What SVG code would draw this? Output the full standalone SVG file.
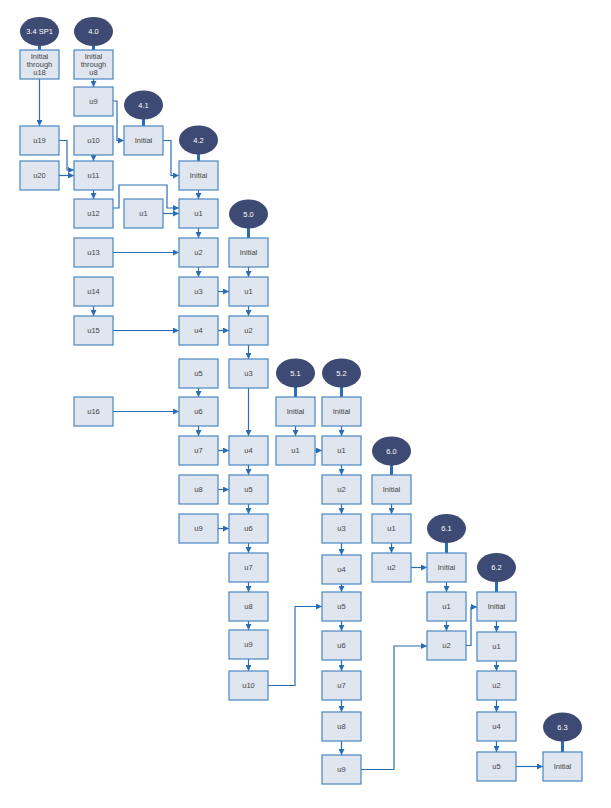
<svg xmlns="http://www.w3.org/2000/svg" width="611" height="808" viewBox="0 0 611 808">
<defs>
<style>
.b{fill:#dfe6f0;stroke:#4a86c0;stroke-width:1.2}
.e{fill:#3d4a73}
.s{stroke:#2a6db5;stroke-width:3}
.t{font-family:"Liberation Sans",Arial,sans-serif;font-size:7.5px;fill:#444;text-anchor:middle}
.w{font-family:"Liberation Sans",Arial,sans-serif;font-size:7.5px;fill:#ffffff;text-anchor:middle}
.c{fill:none;stroke:#2a6db5;stroke-width:1.2;marker-end:url(#ar)}
</style>
<marker id="ar" viewBox="0 0 6 6" refX="6" refY="3" markerWidth="6" markerHeight="6" markerUnits="userSpaceOnUse" orient="auto">
<path d="M0,0 L6,3 L0,6 z" fill="#2a6db5"/>
</marker>
</defs>
<rect width="611" height="808" fill="#ffffff"/>

<g id="connectors">
<path class="c" d="M39.5,79 V126"/>
<path class="c" d="M93.5,79 V87"/>
<path class="c" d="M113,101 H117 V140.5 H124"/>
<path class="c" d="M93.5,155 V161"/>
<path class="c" d="M59,140.5 H67 V170 H74"/>
<path class="c" d="M59,175.5 H74"/>
<path class="c" d="M163,140.5 H171 V175.5 H179"/>
<path class="c" d="M198.5,190 V199"/>
<path class="c" d="M93.5,190 V199"/>
<path class="c" d="M113,208 H119 V185 H167 V208 H179"/>
<path class="c" d="M163,213.5 H179"/>
<path class="c" d="M198.5,228 V238"/>
<path class="c" d="M113,252.5 H179"/>
<path class="c" d="M198.5,267 V277"/>
<path class="c" d="M218,291.5 H229"/>
<path class="c" d="M248.5,267 V277"/>
<path class="c" d="M248.5,306 V316"/>
<path class="c" d="M93.5,306 V316"/>
<path class="c" d="M113,330.5 H179"/>
<path class="c" d="M218,330.5 H229"/>
<path class="c" d="M248.5,345 V359"/>
<path class="c" d="M198.5,388 V397"/>
<path class="c" d="M113,411.5 H179"/>
<path class="c" d="M198.5,426 V436"/>
<path class="c" d="M248.5,388 V436"/>
<path class="c" d="M295.5,426 V436"/>
<path class="c" d="M218,450.5 H229"/>
<path class="c" d="M315,450.5 H322"/>
<path class="c" d="M341.5,426 V436"/>
<path class="c" d="M248.5,465 V475"/>
<path class="c" d="M218,489.5 H229"/>
<path class="c" d="M248.5,504 V514"/>
<path class="c" d="M218,528.5 H229"/>
<path class="c" d="M341.5,465 V475"/>
<path class="c" d="M341.5,504 V514"/>
<path class="c" d="M391.5,504 V514"/>
<path class="c" d="M248.5,543 V553"/>
<path class="c" d="M248.5,582 V592"/>
<path class="c" d="M248.5,621 V630"/>
<path class="c" d="M248.5,659 V671"/>
<path class="c" d="M341.5,543 V555"/>
<path class="c" d="M341.5,584 V592"/>
<path class="c" d="M341.5,621 V631"/>
<path class="c" d="M341.5,660 V671"/>
<path class="c" d="M341.5,700 V712"/>
<path class="c" d="M341.5,741 V755"/>
<path class="c" d="M391.5,543 V553"/>
<path class="c" d="M411,567.5 H427"/>
<path class="c" d="M268,685.5 H295 V606.5 H322"/>
<path class="c" d="M361,769.5 H394 V646 H427"/>
<path class="c" d="M446.5,582 V592"/>
<path class="c" d="M446.5,621 V631"/>
<path class="c" d="M466,645.5 H471 V607 H477"/>
<path class="c" d="M496.5,621 V632"/>
<path class="c" d="M496.5,661 V671"/>
<path class="c" d="M496.5,700 V712"/>
<path class="c" d="M496.5,741 V752"/>
<path class="c" d="M516,766.5 H543"/>
</g>

<g id="e34"><line class="s" x1="39.5" y1="45" x2="39.5" y2="50"/><ellipse class="e" cx="39.5" cy="31.5" rx="19.5" ry="14.5"/><text class="w" x="39.5" y="34.2">3.4 SP1</text></g>
<g id="e40"><line class="s" x1="93.5" y1="45" x2="93.5" y2="50"/><ellipse class="e" cx="93.5" cy="31.5" rx="19.5" ry="14.5"/><text class="w" x="93.5" y="34.2">4.0</text></g>
<g id="e41"><line class="s" x1="143.5" y1="119" x2="143.5" y2="126"/><ellipse class="e" cx="143.5" cy="105" rx="19.5" ry="14.5"/><text class="w" x="143.5" y="107.7">4.1</text></g>
<g id="e42"><line class="s" x1="198.5" y1="154" x2="198.5" y2="161"/><ellipse class="e" cx="198.5" cy="140" rx="19.5" ry="14.5"/><text class="w" x="198.5" y="142.7">4.2</text></g>
<g id="e50"><line class="s" x1="248.5" y1="228" x2="248.5" y2="238"/><ellipse class="e" cx="248.5" cy="214" rx="19.5" ry="14.5"/><text class="w" x="248.5" y="216.7">5.0</text></g>
<g id="e51"><line class="s" x1="295.5" y1="387" x2="295.5" y2="397"/><ellipse class="e" cx="295.5" cy="373" rx="19.5" ry="14.5"/><text class="w" x="295.5" y="375.7">5.1</text></g>
<g id="e52"><line class="s" x1="341.5" y1="387" x2="341.5" y2="397"/><ellipse class="e" cx="341.5" cy="373" rx="19.5" ry="14.5"/><text class="w" x="341.5" y="375.7">5.2</text></g>
<g id="e60"><line class="s" x1="391.5" y1="465" x2="391.5" y2="475"/><ellipse class="e" cx="391.5" cy="451" rx="19.5" ry="14.5"/><text class="w" x="391.5" y="453.7">6.0</text></g>
<g id="e61"><line class="s" x1="446.5" y1="542" x2="446.5" y2="553"/><ellipse class="e" cx="446.5" cy="528.5" rx="19.5" ry="14.5"/><text class="w" x="446.5" y="531.2">6.1</text></g>
<g id="e62"><line class="s" x1="496.5" y1="581" x2="496.5" y2="592"/><ellipse class="e" cx="496.5" cy="567.5" rx="19.5" ry="14.5"/><text class="w" x="496.5" y="570.2">6.2</text></g>
<g id="e63"><line class="s" x1="562.5" y1="741" x2="562.5" y2="752"/><ellipse class="e" cx="562.5" cy="727" rx="19.5" ry="14.5"/><text class="w" x="562.5" y="729.7">6.3</text></g>

<g id="a_init"><rect class="b" x="20" y="50" width="39" height="29"/><text class="t" x="39.5" y="58.5">Initial</text><text class="t" x="39.5" y="66.5">through</text><text class="t" x="39.5" y="74.5">u18</text></g>
<g id="a_u19"><rect class="b" x="20" y="126" width="39" height="29"/><text class="t" x="39.5" y="143.2">u19</text></g>
<g id="a_u20"><rect class="b" x="20" y="161" width="39" height="29"/><text class="t" x="39.5" y="178.2">u20</text></g>

<g id="b_init"><rect class="b" x="74" y="50" width="39" height="29"/><text class="t" x="93.5" y="58.5">Initial</text><text class="t" x="93.5" y="66.5">through</text><text class="t" x="93.5" y="74.5">u8</text></g>
<g id="b_u9"><rect class="b" x="74" y="87" width="39" height="29"/><text class="t" x="93.5" y="104.2">u9</text></g>
<g id="b_u10"><rect class="b" x="74" y="126" width="39" height="29"/><text class="t" x="93.5" y="143.2">u10</text></g>
<g id="b_u11"><rect class="b" x="74" y="161" width="39" height="29"/><text class="t" x="93.5" y="178.2">u11</text></g>
<g id="b_u12"><rect class="b" x="74" y="199" width="39" height="29"/><text class="t" x="93.5" y="216.2">u12</text></g>
<g id="b_u13"><rect class="b" x="74" y="238" width="39" height="29"/><text class="t" x="93.5" y="255.2">u13</text></g>
<g id="b_u14"><rect class="b" x="74" y="277" width="39" height="29"/><text class="t" x="93.5" y="294.2">u14</text></g>
<g id="b_u15"><rect class="b" x="74" y="316" width="39" height="29"/><text class="t" x="93.5" y="333.2">u15</text></g>
<g id="b_u16"><rect class="b" x="74" y="397" width="39" height="29"/><text class="t" x="93.5" y="414.2">u16</text></g>

<g id="c_init"><rect class="b" x="124" y="126" width="39" height="29"/><text class="t" x="143.5" y="143.2">Initial</text></g>
<g id="c_u1"><rect class="b" x="124" y="199" width="39" height="29"/><text class="t" x="143.5" y="216.2">u1</text></g>

<g id="d_init"><rect class="b" x="179" y="161" width="39" height="29"/><text class="t" x="198.5" y="178.2">Initial</text></g>
<g id="d_u1"><rect class="b" x="179" y="199" width="39" height="29"/><text class="t" x="198.5" y="216.2">u1</text></g>
<g id="d_u2"><rect class="b" x="179" y="238" width="39" height="29"/><text class="t" x="198.5" y="255.2">u2</text></g>
<g id="d_u3"><rect class="b" x="179" y="277" width="39" height="29"/><text class="t" x="198.5" y="294.2">u3</text></g>
<g id="d_u4"><rect class="b" x="179" y="316" width="39" height="29"/><text class="t" x="198.5" y="333.2">u4</text></g>
<g id="d_u5"><rect class="b" x="179" y="359" width="39" height="29"/><text class="t" x="198.5" y="376.2">u5</text></g>
<g id="d_u6"><rect class="b" x="179" y="397" width="39" height="29"/><text class="t" x="198.5" y="414.2">u6</text></g>
<g id="d_u7"><rect class="b" x="179" y="436" width="39" height="29"/><text class="t" x="198.5" y="453.2">u7</text></g>
<g id="d_u8"><rect class="b" x="179" y="475" width="39" height="29"/><text class="t" x="198.5" y="492.2">u8</text></g>
<g id="d_u9"><rect class="b" x="179" y="514" width="39" height="29"/><text class="t" x="198.5" y="531.2">u9</text></g>

<g id="e_init"><rect class="b" x="229" y="238" width="39" height="29"/><text class="t" x="248.5" y="255.2">Initial</text></g>
<g id="e_u1"><rect class="b" x="229" y="277" width="39" height="29"/><text class="t" x="248.5" y="294.2">u1</text></g>
<g id="e_u2"><rect class="b" x="229" y="316" width="39" height="29"/><text class="t" x="248.5" y="333.2">u2</text></g>
<g id="e_u3"><rect class="b" x="229" y="359" width="39" height="29"/><text class="t" x="248.5" y="376.2">u3</text></g>
<g id="e_u4"><rect class="b" x="229" y="436" width="39" height="29"/><text class="t" x="248.5" y="453.2">u4</text></g>
<g id="e_u5"><rect class="b" x="229" y="475" width="39" height="29"/><text class="t" x="248.5" y="492.2">u5</text></g>
<g id="e_u6"><rect class="b" x="229" y="514" width="39" height="29"/><text class="t" x="248.5" y="531.2">u6</text></g>
<g id="e_u7"><rect class="b" x="229" y="553" width="39" height="29"/><text class="t" x="248.5" y="570.2">u7</text></g>
<g id="e_u8"><rect class="b" x="229" y="592" width="39" height="29"/><text class="t" x="248.5" y="609.2">u8</text></g>
<g id="e_u9"><rect class="b" x="229" y="630" width="39" height="29"/><text class="t" x="248.5" y="647.2">u9</text></g>
<g id="e_u10"><rect class="b" x="229" y="671" width="39" height="29"/><text class="t" x="248.5" y="688.2">u10</text></g>

<g id="f_init"><rect class="b" x="276" y="397" width="39" height="29"/><text class="t" x="295.5" y="414.2">Initial</text></g>
<g id="f_u1"><rect class="b" x="276" y="436" width="39" height="29"/><text class="t" x="295.5" y="453.2">u1</text></g>

<g id="g_init"><rect class="b" x="322" y="397" width="39" height="29"/><text class="t" x="341.5" y="414.2">Initial</text></g>
<g id="g_u1"><rect class="b" x="322" y="436" width="39" height="29"/><text class="t" x="341.5" y="453.2">u1</text></g>
<g id="g_u2"><rect class="b" x="322" y="475" width="39" height="29"/><text class="t" x="341.5" y="492.2">u2</text></g>
<g id="g_u3"><rect class="b" x="322" y="514" width="39" height="29"/><text class="t" x="341.5" y="531.2">u3</text></g>
<g id="g_u4"><rect class="b" x="322" y="555" width="39" height="29"/><text class="t" x="341.5" y="572.2">u4</text></g>
<g id="g_u5"><rect class="b" x="322" y="592" width="39" height="29"/><text class="t" x="341.5" y="609.2">u5</text></g>
<g id="g_u6"><rect class="b" x="322" y="631" width="39" height="29"/><text class="t" x="341.5" y="648.2">u6</text></g>
<g id="g_u7"><rect class="b" x="322" y="671" width="39" height="29"/><text class="t" x="341.5" y="688.2">u7</text></g>
<g id="g_u8"><rect class="b" x="322" y="712" width="39" height="29"/><text class="t" x="341.5" y="729.2">u8</text></g>
<g id="g_u9"><rect class="b" x="322" y="755" width="39" height="29"/><text class="t" x="341.5" y="772.2">u9</text></g>

<g id="h_init"><rect class="b" x="372" y="475" width="39" height="29"/><text class="t" x="391.5" y="492.2">Initial</text></g>
<g id="h_u1"><rect class="b" x="372" y="514" width="39" height="29"/><text class="t" x="391.5" y="531.2">u1</text></g>
<g id="h_u2"><rect class="b" x="372" y="553" width="39" height="29"/><text class="t" x="391.5" y="570.2">u2</text></g>

<g id="i_init"><rect class="b" x="427" y="553" width="39" height="29"/><text class="t" x="446.5" y="570.2">Initial</text></g>
<g id="i_u1"><rect class="b" x="427" y="592" width="39" height="29"/><text class="t" x="446.5" y="609.2">u1</text></g>
<g id="i_u2"><rect class="b" x="427" y="631" width="39" height="29"/><text class="t" x="446.5" y="648.2">u2</text></g>

<g id="j_init"><rect class="b" x="477" y="592" width="39" height="29"/><text class="t" x="496.5" y="609.2">Initial</text></g>
<g id="j_u1"><rect class="b" x="477" y="632" width="39" height="29"/><text class="t" x="496.5" y="649.2">u1</text></g>
<g id="j_u2"><rect class="b" x="477" y="671" width="39" height="29"/><text class="t" x="496.5" y="688.2">u2</text></g>
<g id="j_u4"><rect class="b" x="477" y="712" width="39" height="29"/><text class="t" x="496.5" y="729.2">u4</text></g>
<g id="j_u5"><rect class="b" x="477" y="752" width="39" height="29"/><text class="t" x="496.5" y="769.2">u5</text></g>

<g id="k_init"><rect class="b" x="543" y="752" width="39" height="29"/><text class="t" x="562.5" y="769.2">Initial</text></g>
</svg>
